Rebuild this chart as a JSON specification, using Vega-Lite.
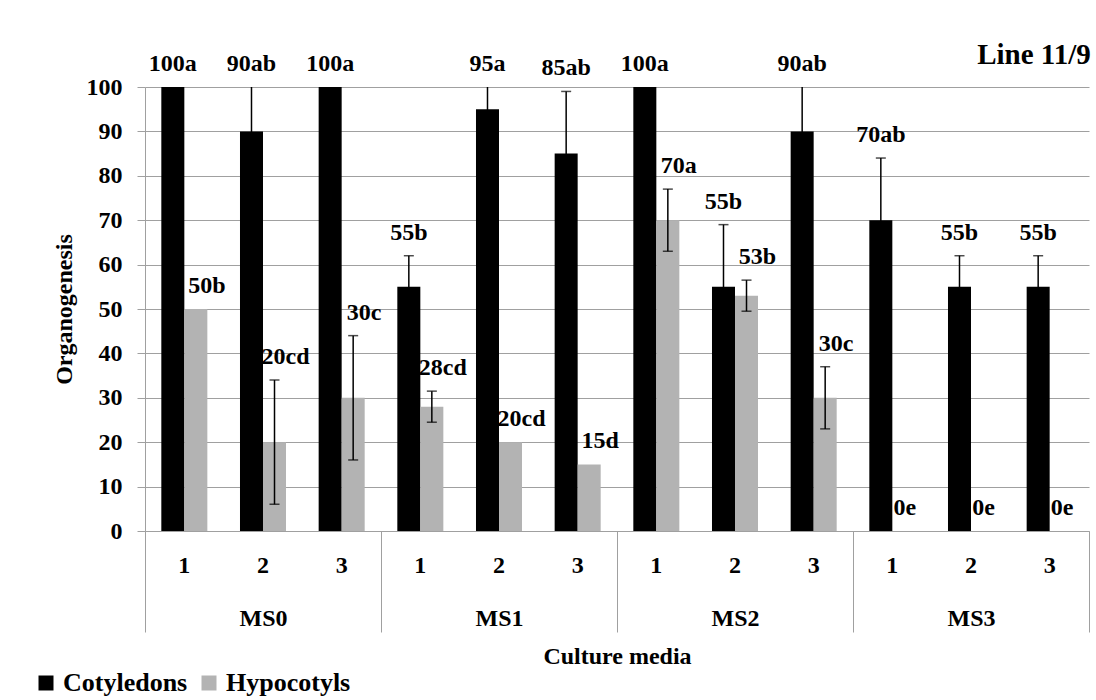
{
  "$schema": "https://vega.github.io/schema/vega-lite/v6.json",
  "width": 944,
  "height": 444,
  "autosize": {"type": "none"},
  "padding": {"left": 145, "top": 87, "right": 7, "bottom": 169},
  "background": "white",
  "config": {
    "view": {"stroke": null},
    "font": "Liberation Serif",
    "axis": {"labelFont": "Liberation Serif", "titleFont": "Liberation Serif", "labelColor": "black", "titleColor": "black"}
  },
  "data": {"values": [
    {"media": "MS0", "level": "1", "series": "Cotyledons", "value": 100, "lo": null, "hi": null, "sig": "100a"},
    {"media": "MS0", "level": "1", "series": "Hypocotyls", "value": 50, "lo": null, "hi": null, "sig": "50b"},
    {"media": "MS0", "level": "2", "series": "Cotyledons", "value": 90, "lo": 76, "hi": 104, "sig": "90ab"},
    {"media": "MS0", "level": "2", "series": "Hypocotyls", "value": 20, "lo": 6, "hi": 34, "sig": "20cd"},
    {"media": "MS0", "level": "3", "series": "Cotyledons", "value": 100, "lo": null, "hi": null, "sig": "100a"},
    {"media": "MS0", "level": "3", "series": "Hypocotyls", "value": 30, "lo": 16, "hi": 44, "sig": "30c"},
    {"media": "MS1", "level": "1", "series": "Cotyledons", "value": 55, "lo": 48, "hi": 62, "sig": "55b"},
    {"media": "MS1", "level": "1", "series": "Hypocotyls", "value": 28, "lo": 24.5, "hi": 31.5, "sig": "28cd"},
    {"media": "MS1", "level": "2", "series": "Cotyledons", "value": 95, "lo": 88, "hi": 102, "sig": "95a"},
    {"media": "MS1", "level": "2", "series": "Hypocotyls", "value": 20, "lo": null, "hi": null, "sig": "20cd"},
    {"media": "MS1", "level": "3", "series": "Cotyledons", "value": 85, "lo": 71, "hi": 99, "sig": "85ab"},
    {"media": "MS1", "level": "3", "series": "Hypocotyls", "value": 15, "lo": null, "hi": null, "sig": "15d"},
    {"media": "MS2", "level": "1", "series": "Cotyledons", "value": 100, "lo": null, "hi": null, "sig": "100a"},
    {"media": "MS2", "level": "1", "series": "Hypocotyls", "value": 70, "lo": 63, "hi": 77, "sig": "70a"},
    {"media": "MS2", "level": "2", "series": "Cotyledons", "value": 55, "lo": 41, "hi": 69, "sig": "55b"},
    {"media": "MS2", "level": "2", "series": "Hypocotyls", "value": 53, "lo": 49.5, "hi": 56.5, "sig": "53b"},
    {"media": "MS2", "level": "3", "series": "Cotyledons", "value": 90, "lo": 76, "hi": 104, "sig": "90ab"},
    {"media": "MS2", "level": "3", "series": "Hypocotyls", "value": 30, "lo": 23, "hi": 37, "sig": "30c"},
    {"media": "MS3", "level": "1", "series": "Cotyledons", "value": 70, "lo": 56, "hi": 84, "sig": "70ab"},
    {"media": "MS3", "level": "1", "series": "Hypocotyls", "value": 0, "lo": null, "hi": null, "sig": "0e"},
    {"media": "MS3", "level": "2", "series": "Cotyledons", "value": 55, "lo": 48, "hi": 62, "sig": "55b"},
    {"media": "MS3", "level": "2", "series": "Hypocotyls", "value": 0, "lo": null, "hi": null, "sig": "0e"},
    {"media": "MS3", "level": "3", "series": "Cotyledons", "value": 55, "lo": 48, "hi": 62, "sig": "55b"},
    {"media": "MS3", "level": "3", "series": "Hypocotyls", "value": 0, "lo": null, "hi": null, "sig": "0e"}
  ]},
  "transform": [
    {"calculate": "datum.media + '|' + datum.level", "as": "cat"},
    {"calculate": "min(isValid(datum.hi) ? datum.hi : datum.value, 100)", "as": "labelAt"}
  ],
  "layer": [
    {
      "encoding": {
        "x": {
          "field": "cat", "type": "nominal",
          "scale": {"paddingInner": 0.415, "paddingOuter": 0.2075},
          "axis": {"title": null, "orient": "bottom", "labelExpr": "split(datum.label, '|')[1]", "labelAngle": 0, "ticks": false, "tickSize": 0, "domain": true, "domainColor": "#a0a0a0", "domainWidth": 1, "labelPadding": 22, "labelFontSize": 24, "labelFontWeight": "bold", "labelBaseline": "top", "grid": false}
        },
        "xOffset": {"field": "series", "type": "nominal", "sort": ["Cotyledons", "Hypocotyls"], "scale": {"paddingInner": 0, "paddingOuter": 0}}
      },
      "layer": [
        {
          "transform": [{"filter": "datum.series == 'Cotyledons'"}],
          "mark": {"type": "text", "fontSize": 24, "fontWeight": "bold", "baseline": "middle", "dy": -23, "color": "black", "font": "Liberation Serif"},
          "encoding": {
            "y": {"field": "labelAt", "type": "quantitative", "title": "Organogenesis"},
            "text": {"field": "sig"}
          }
        },
        {
          "transform": [{"filter": "datum.series == 'Hypocotyls' && datum.value > 0"}],
          "mark": {"type": "text", "fontSize": 24, "fontWeight": "bold", "baseline": "middle", "dy": -23, "dx": 11, "color": "black", "font": "Liberation Serif"},
          "encoding": {
            "y": {"field": "labelAt", "type": "quantitative", "title": "Organogenesis"},
            "text": {"field": "sig"}
          }
        },
        {
          "transform": [{"filter": "datum.series == 'Hypocotyls' && datum.value == 0"}],
          "mark": {"type": "text", "fontSize": 24, "fontWeight": "bold", "baseline": "middle", "dy": -23, "dx": 1, "color": "black", "font": "Liberation Serif"},
          "encoding": {
            "y": {"field": "labelAt", "type": "quantitative", "title": "Organogenesis"},
            "text": {"field": "sig"}
          }
        },
        {
          "mark": {"type": "bar"},
          "encoding": {
            "y": {
              "field": "value", "type": "quantitative", "title": "Organogenesis",
              "scale": {"domain": [0, 100], "nice": false},
              "axis": {"values": [0, 10, 20, 30, 40, 50, 60, 70, 80, 90, 100], "grid": true, "gridColor": "#a0a0a0", "gridWidth": 1, "domainColor": "#a0a0a0", "tickColor": "#a0a0a0", "tickSize": 8, "labelPadding": 15, "labelFontSize": 24, "labelFontWeight": "bold", "titleFontSize": 24, "titleFontWeight": "bold", "titlePadding": 10}
            },
            "color": {
              "field": "series", "type": "nominal",
              "scale": {"domain": ["Cotyledons", "Hypocotyls"], "range": ["#000000", "#b3b3b3"]},
              "legend": {"orient": "none", "legendX": -112, "legendY": 583, "direction": "horizontal", "title": null, "symbolType": "square", "symbolSize": 225, "symbolStrokeWidth": 0, "labelFontSize": 26, "labelFontWeight": "bold", "labelFont": "Liberation Serif", "labelColor": "black", "columnPadding": 8, "labelOffset": 4, "padding": 0}
            }
          }
        },
        {
          "transform": [{"filter": "isValid(datum.lo)"}],
          "mark": {"type": "rule", "color": "black", "strokeWidth": 1.5, "clip": true},
          "encoding": {
            "y": {"field": "lo", "type": "quantitative", "title": "Organogenesis"},
            "y2": {"field": "hi"}
          }
        },
        {
          "transform": [{"filter": "isValid(datum.lo)"}],
          "mark": {"type": "tick", "color": "black", "size": 10, "thickness": 1.5, "clip": true},
          "encoding": {
            "y": {"field": "lo", "type": "quantitative", "title": "Organogenesis"}
          }
        },
        {
          "transform": [{"filter": "isValid(datum.hi)"}],
          "mark": {"type": "tick", "color": "black", "size": 10, "thickness": 1.5, "clip": true},
          "encoding": {
            "y": {"field": "hi", "type": "quantitative", "title": "Organogenesis"}
          }
        }
      ]
    },
    {
      "encoding": {
        "x": {
          "field": "media", "type": "nominal",
          "scale": {"paddingInner": 0, "paddingOuter": 0},
          "axis": {"title": "Culture media", "orient": "bottom", "labelAngle": 0, "ticks": true, "tickBand": "extent", "tickSize": 101, "tickColor": "#a0a0a0", "tickWidth": 1, "domain": false, "labelPadding": -26, "labelFontSize": 24, "labelFontWeight": "bold", "labelBaseline": "top", "titleFontSize": 24, "titleFontWeight": "bold", "titlePadding": 12, "grid": false}
        }
      },
      "layer": [
        {
          "mark": {"type": "bar", "opacity": 0},
          "encoding": {
            "y": {"field": "value", "type": "quantitative", "title": "Organogenesis"}
          }
        },
        {
          "data": {"values": [{"note": "Line 11/9"}]},
          "mark": {"type": "text", "fontSize": 29, "fontWeight": "bold", "font": "Liberation Serif", "color": "black", "align": "center", "baseline": "middle", "dx": 63, "dy": -32},
          "encoding": {
            "x": {"datum": "MS3", "type": "nominal"},
            "y": {"datum": 100, "type": "quantitative", "title": "Organogenesis"},
            "text": {"field": "note"}
          }
        }
      ]
    }
  ],
  "resolve": {"scale": {"x": "independent"}, "axis": {"x": "independent"}}
}
